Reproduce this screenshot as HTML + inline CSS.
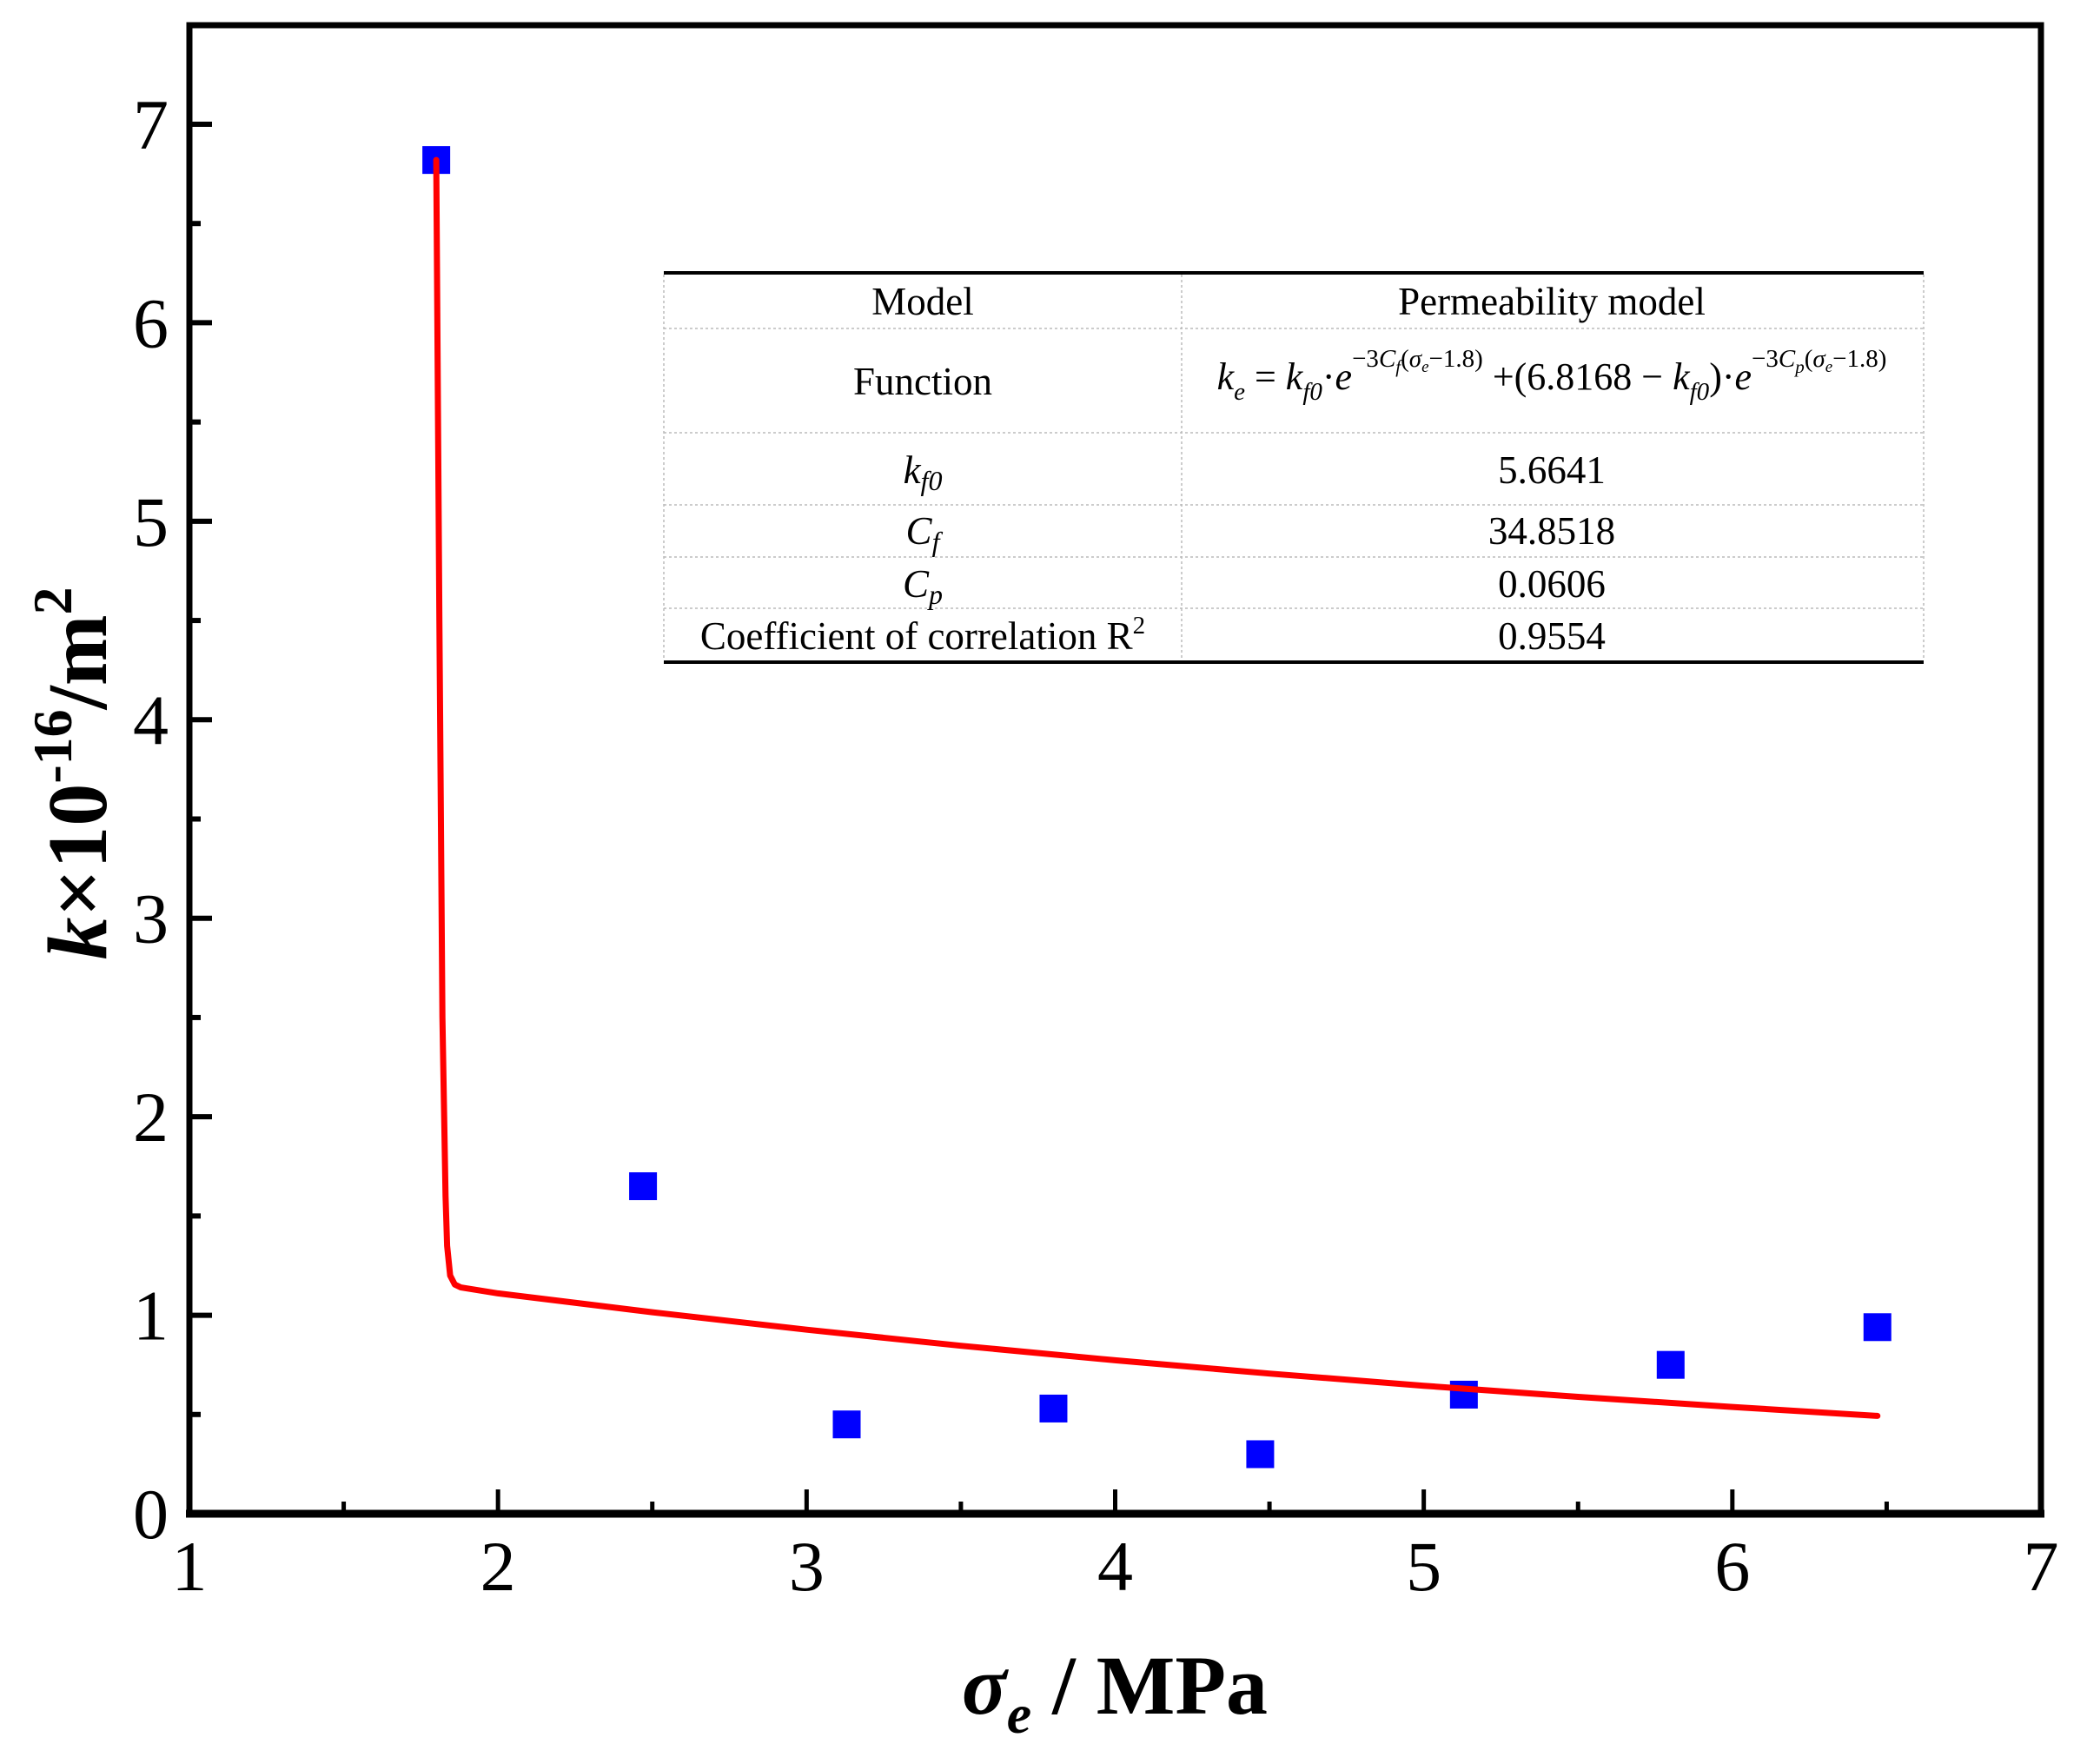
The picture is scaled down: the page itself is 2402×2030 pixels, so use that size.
<!DOCTYPE html>
<html><head><meta charset="utf-8"><style>
html,body{margin:0;padding:0;background:#fff;}
svg{display:block;font-family:"Liberation Serif",serif;}
</style></head><body>
<svg id="chart" width="2402" height="2030" viewBox="0 0 2402 2030" xmlns="http://www.w3.org/2000/svg">
<g id="ticks"></g>
<g id="plot"></g>
<rect x="218" y="29" width="2131" height="1713" fill="none" stroke="#000" stroke-width="7"/>
<line x1="214" y1="1742" x2="2353" y2="1742" stroke="#000" stroke-width="9"/>
<g font-size="45" text-anchor="middle">
  <line x1="764" y1="314" x2="2214" y2="314" stroke="#000" stroke-width="4"/>
  <line x1="764" y1="762" x2="2214" y2="762" stroke="#000" stroke-width="4"/>
  <g stroke="#bbb" stroke-width="1.5" stroke-dasharray="3,3">
    <line x1="764" y1="378" x2="2214" y2="378"/>
    <line x1="764" y1="498" x2="2214" y2="498"/>
    <line x1="764" y1="581" x2="2214" y2="581"/>
    <line x1="764" y1="641" x2="2214" y2="641"/>
    <line x1="764" y1="700" x2="2214" y2="700"/>
    <line x1="1360" y1="316" x2="1360" y2="760"/>
    <line x1="764" y1="316" x2="764" y2="760"/>
    <line x1="2214" y1="316" x2="2214" y2="760"/>
  </g>
  <text x="1062" y="362">Model</text>
  <text x="1786" y="362">Permeability model</text>
  <text x="1062" y="454">Function</text>
  <text x="1786" y="448" font-size="44" font-style="italic">k<tspan font-size="29" dy="12">e</tspan><tspan dy="-12" font-style="normal"> = </tspan>k<tspan font-size="29" dy="12">f0</tspan><tspan dy="-12" font-style="normal">·</tspan>e<tspan font-size="29" dy="-26" font-style="normal">−3</tspan><tspan font-size="29">C</tspan><tspan font-size="21" dy="7">f</tspan><tspan font-size="29" dy="-7" font-style="normal">(</tspan><tspan font-size="29">σ</tspan><tspan font-size="19" dy="6">e</tspan><tspan font-size="29" dy="-6" font-style="normal">−1.8)</tspan><tspan dy="26" font-style="normal"> +(6.8168 − </tspan>k<tspan font-size="29" dy="12">f0</tspan><tspan dy="-12" font-style="normal">)·</tspan>e<tspan font-size="29" dy="-26" font-style="normal">−3</tspan><tspan font-size="29">C</tspan><tspan font-size="21" dy="7">p</tspan><tspan font-size="29" dy="-7" font-style="normal">(</tspan><tspan font-size="29">σ</tspan><tspan font-size="19" dy="6">e</tspan><tspan font-size="29" dy="-6" font-style="normal">−1.8)</tspan></text>
  <text x="1062" y="556" font-style="italic">k<tspan font-size="32" dy="8">f0</tspan></text>
  <text x="1786" y="556">5.6641</text>
  <text x="1062" y="626" font-style="italic">C<tspan font-size="32" dy="8">f</tspan></text>
  <text x="1786" y="626">34.8518</text>
  <text x="1062" y="687" font-style="italic">C<tspan font-size="32" dy="8">p</tspan></text>
  <text x="1786" y="687">0.0606</text>
  <text x="1062" y="747">Coefficient of correlation R<tspan font-size="29" dy="-18">2</tspan></text>
  <text x="1786" y="747">0.9554</text>
</g>
<text x="1283" y="1972" font-size="96" font-weight="bold" text-anchor="middle"><tspan font-style="italic">σ</tspan><tspan font-style="italic" font-size="64" dy="22">e</tspan><tspan dy="-22"> / MPa</tspan></text>
<text transform="translate(122,890) rotate(-90)" font-size="98" font-weight="bold" text-anchor="middle"><tspan font-style="italic">k</tspan>×10<tspan font-size="64" dy="-40">-16</tspan><tspan dy="40">/m</tspan><tspan font-size="64" dy="-40">2</tspan></text>
<script>
const xTicks = [1, 2, 3, 4, 5, 6, 7];
const yTicks = [0, 1, 2, 3, 4, 5, 6, 7];
const pointX = [1.8, 2.47, 3.13, 3.8, 4.47, 5.13, 5.8, 6.47];
const pointY = [6.82, 1.65, 0.45, 0.53, 0.30, 0.60, 0.75, 0.94];
const curveX = [1.8, 1.81, 1.82, 1.83, 1.835, 1.845, 1.86, 1.88, 2.0, 2.5, 3.0, 3.5, 4.0, 4.5, 5.0, 5.5, 6.0, 6.47];
const curveY = [6.82, 4.5, 2.5, 1.6, 1.35, 1.2, 1.155, 1.14, 1.11, 1.015, 0.927, 0.846, 0.773, 0.706, 0.645, 0.589, 0.538, 0.493];
const NS = 'http://www.w3.org/2000/svg';
const X0 = 218, X1 = 2349, Y0 = 1742, Y7 = 143;
function sx(v){ return X0 + (v - 1) / 6 * (X1 - X0); }
function sy(v){ return Y0 - v / 7 * (Y0 - Y7); }
function mk(tag, attrs, parent){ const e = document.createElementNS(NS, tag); for (const k in attrs) e.setAttribute(k, attrs[k]); parent.appendChild(e); return e; }
const tg = document.getElementById('ticks');
const pg = document.getElementById('plot');
xTicks.forEach((v, i) => {
  const t = mk('line', {x1: sx(v), x2: sx(v), y1: Y0, y2: Y0 - 28, stroke: '#000', 'stroke-width': 5}, tg);
  
  
  if (i < xTicks.length - 1) {
    const m = mk('line', {x1: sx(v + 0.5), x2: sx(v + 0.5), y1: Y0, y2: Y0 - 14, stroke: '#000', 'stroke-width': 5}, tg);
    
    
  }
  const l = mk('text', {x: sx(v), y: 1830, 'font-size': 82, 'text-anchor': 'middle'}, tg);
  l.textContent = v;
  
  
});
yTicks.forEach((v, i) => {
  const t = mk('line', {x1: X0, x2: X0 + 26, y1: sy(v), y2: sy(v), stroke: '#000', 'stroke-width': 6}, tg);
  
  
  if (i < yTicks.length - 1) {
    const m = mk('line', {x1: X0, x2: X0 + 13, y1: sy(v + 0.5), y2: sy(v + 0.5), stroke: '#000', 'stroke-width': 6}, tg);
    
    
  }
  const l = mk('text', {x: 194, y: sy(v) + 28, 'font-size': 82, 'text-anchor': 'end'}, tg);
  l.textContent = v;
  
  
});
pointX.forEach((v, i) => {
  const r = mk('rect', {x: sx(v) - 16, y: sy(pointY[i]) - 16, width: 32, height: 32, fill: '#0000ff'}, pg);
  
  
});
const d = curveX.map((v, i) => (i ? 'L' : 'M') + sx(v).toFixed(1) + ' ' + sy(curveY[i]).toFixed(1)).join(' ');
const c = mk('path', {d: d, fill: 'none', stroke: '#ff0000', 'stroke-width': 7, 'stroke-linejoin': 'round', 'stroke-linecap': 'round'}, pg);


</script>
</svg>
</body></html>
